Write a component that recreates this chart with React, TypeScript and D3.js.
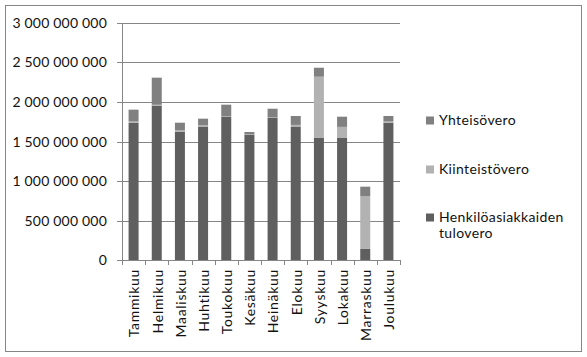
import React from "react";
import * as d3 from "d3";

const months = ["Tammikuu","Helmikuu","Maaliskuu","Huhtikuu","Toukokuu","Kesäkuu","Heinäkuu","Elokuu","Syyskuu","Lokakuu","Marraskuu","Joulukuu"];
const henkiloasiakkaat = [1735e6, 1950e6, 1625e6, 1690e6, 1815e6, 1585e6, 1800e6, 1690e6, 1550e6, 1550e6, 140e6, 1738e6];
const kiinteisto = [18e6, 15e6, 15e6, 15e6, 5e6, 5e6, 5e6, 20e6, 770e6, 135e6, 670e6, 15e6];
const yhteiso = [150e6, 343e6, 98e6, 84e6, 146e6, 30e6, 110e6, 113e6, 114e6, 129e6, 118e6, 70e6];
const yTicks = [0, 500e6, 1000e6, 1500e6, 2000e6, 2500e6, 3000e6];
const seriesNames = ["Henkilöasiakkaiden tulovero", "Kiinteistövero", "Yhteisövero"];
const seriesColors = ["#5f5f5f", "#b2b2b2", "#808080"];

const W = 587, H = 357;
const plot = { left: 122, right: 400, top: 23, bottom: 260 };
const FONT = "Lato, sans-serif";

function fmt(v: number) {
  return d3.format(",")(v).replace(/,/g, " ");
}

export default function App() {
  const xb = d3.scaleBand<string>().domain(months).range([plot.left, plot.right]);
  const y = d3.scaleLinear().domain([0, 3000e6]).range([plot.bottom, plot.top]);
  const rows = months.map((m, i) => ({ m, h: henkiloasiakkaat[i], k: kiinteisto[i], y: yhteiso[i] }));
  const stack = d3.stack<any>().keys(["h", "k", "y"])(rows);
  const grid = "#868686";
  const bw = 10;
  return (
    <svg width={W} height={H} style={{ position: "absolute", left: 0, top: 0, background: "#fff" }}>
      <rect x={5.5} y={5.5} width={576} height={346} fill="#fff" stroke={grid} />
      {yTicks.map((t) => (
        <g key={t}>
          <line x1={plot.left - 5} x2={plot.right} y1={Math.round(y(t)) + 0.5} y2={Math.round(y(t)) + 0.5} stroke={grid} />
          <text x={107} y={Math.round(y(t)) + 0.5} dy="0.35em" textAnchor="end" fontFamily={FONT} fontSize={14} letterSpacing={0.2} fill="#111">{fmt(t)}</text>
        </g>
      ))}
      {stack.map((s, si) => (
        <g key={si} fill={seriesColors[si]}>
          {s.map((d: any, i: number) => {
            const cx = (xb(months[i]) as number) + xb.bandwidth() / 2;
            return <rect key={i} x={cx - bw / 2} width={bw} y={y(d[1])} height={y(d[0]) - y(d[1])} />;
          })}
        </g>
      ))}
      <line x1={plot.left + 0.5} x2={plot.left + 0.5} y1={plot.top} y2={plot.bottom} stroke={grid} />
      {d3.range(13).map((i) => {
        const xx = Math.round(plot.left + i * xb.step()) + 0.5;
        return <line key={i} x1={xx} x2={xx} y1={plot.bottom} y2={plot.bottom + 5} stroke={grid} />;
      })}
      {months.map((m) => {
        const cx = (xb(m) as number) + xb.bandwidth() / 2;
        return (
          <text key={m} transform={`translate(${cx + 1},${plot.bottom + 9}) rotate(-90)`} textAnchor="end" dy="0.35em" fontFamily={FONT} fontSize={14} letterSpacing={0.7} fill="#111">{m}</text>
        );
      })}
      {[
        { i: 2, lines: ["Yhteisövero"], yy: 120.5 },
        { i: 1, lines: ["Kiinteistövero"], yy: 169.5 },
        { i: 0, lines: ["Henkilöasiakkaiden", "tulovero"], yy: 217.5 },
      ].map((l) => (
        <g key={l.i}>
          <rect x={426} y={l.yy - 4} width={8} height={8} fill={seriesColors[l.i]} />
          {l.lines.map((t, j) => (
            <text key={j} x={439} y={l.yy + j * 16} dy="0.35em" fontFamily={FONT} fontSize={14} letterSpacing={0.35} fill="#111">{t}</text>
          ))}
        </g>
      ))}
    </svg>
  );
}
